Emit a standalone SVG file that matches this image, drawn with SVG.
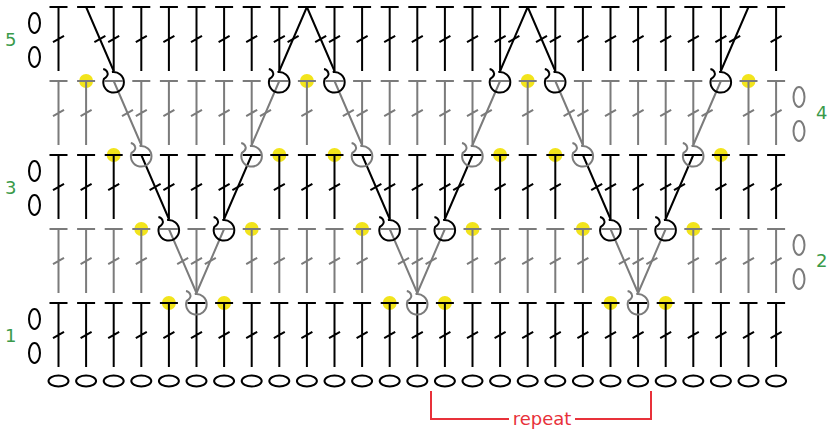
<svg xmlns="http://www.w3.org/2000/svg" width="828" height="431" viewBox="0 0 828 431">
<style>
.k{stroke:#000;fill:none;stroke-width:2}
.g{stroke:#7b7b7b;fill:none;stroke-width:2}
.dot{fill:#f2e41c;stroke:none}
.lbl{font-family:"DejaVu Sans",Verdana,sans-serif;font-size:18px;fill:#3a9a4a}
.rep{font-family:"DejaVu Sans",Verdana,sans-serif;font-size:18px;fill:#e8313a;text-anchor:middle}
</style>
<defs>
<path id="dc" d="M-9,0H9M0,0V64M-5.5,35.2L5.5,28.8"/>
<path id="bar" d="M-9,0H9"/>
<path id="sl" d="M-5.5,3.2L5.5,-3.2"/>
<path id="hk" d="M-1.8,-8.9A10.3,10.3 0 1 1 -9.8,-2.2Q-5,-5.2 -6.2,-8.4Q-7.2,-11.4 -10.5,-12"/>
<circle id="d" r="7"/>
<ellipse id="ch" rx="10" ry="5.5"/>
<ellipse id="ov" rx="5.5" ry="10"/>
</defs>

<g id="dots" class="dot">
<use href="#d" x="168.9" y="303"/><use href="#d" x="224.1" y="303"/><use href="#d" x="389.7" y="303"/><use href="#d" x="444.9" y="303"/><use href="#d" x="610.5" y="303"/><use href="#d" x="665.7" y="303"/>
<use href="#d" x="141.3" y="229"/><use href="#d" x="251.7" y="229"/><use href="#d" x="362.1" y="229"/><use href="#d" x="472.5" y="229"/><use href="#d" x="582.9" y="229"/><use href="#d" x="693.3" y="229"/>
<use href="#d" x="113.7" y="155"/><use href="#d" x="279.3" y="155"/><use href="#d" x="334.5" y="155"/><use href="#d" x="500.1" y="155"/><use href="#d" x="555.3" y="155"/><use href="#d" x="720.9" y="155"/>
<use href="#d" x="86.1" y="81"/><use href="#d" x="306.9" y="81"/><use href="#d" x="527.7" y="81"/><use href="#d" x="748.5" y="81"/>
</g>

<g id="chain" class="k">
<use href="#ch" x="58.5" y="381"/><use href="#ch" x="86.1" y="381"/><use href="#ch" x="113.7" y="381"/><use href="#ch" x="141.3" y="381"/><use href="#ch" x="168.9" y="381"/><use href="#ch" x="196.5" y="381"/><use href="#ch" x="224.1" y="381"/><use href="#ch" x="251.7" y="381"/><use href="#ch" x="279.3" y="381"/><use href="#ch" x="306.9" y="381"/><use href="#ch" x="334.5" y="381"/><use href="#ch" x="362.1" y="381"/><use href="#ch" x="389.7" y="381"/><use href="#ch" x="417.3" y="381"/><use href="#ch" x="444.9" y="381"/><use href="#ch" x="472.5" y="381"/><use href="#ch" x="500.1" y="381"/><use href="#ch" x="527.7" y="381"/><use href="#ch" x="555.3" y="381"/><use href="#ch" x="582.9" y="381"/><use href="#ch" x="610.5" y="381"/><use href="#ch" x="638.1" y="381"/><use href="#ch" x="665.7" y="381"/><use href="#ch" x="693.3" y="381"/><use href="#ch" x="720.9" y="381"/><use href="#ch" x="748.5" y="381"/><use href="#ch" x="776.1" y="381"/>
</g>

<g id="row1" class="k">
<use href="#dc" x="58.5" y="303"/><use href="#dc" x="86.1" y="303"/><use href="#dc" x="113.7" y="303"/><use href="#dc" x="141.3" y="303"/><use href="#dc" x="168.9" y="303"/><use href="#dc" x="196.5" y="303"/><use href="#dc" x="224.1" y="303"/><use href="#dc" x="251.7" y="303"/><use href="#dc" x="279.3" y="303"/><use href="#dc" x="306.9" y="303"/><use href="#dc" x="334.5" y="303"/><use href="#dc" x="362.1" y="303"/><use href="#dc" x="389.7" y="303"/><use href="#dc" x="417.3" y="303"/><use href="#dc" x="444.9" y="303"/><use href="#dc" x="472.5" y="303"/><use href="#dc" x="500.1" y="303"/><use href="#dc" x="527.7" y="303"/><use href="#dc" x="555.3" y="303"/><use href="#dc" x="582.9" y="303"/><use href="#dc" x="610.5" y="303"/><use href="#dc" x="638.1" y="303"/><use href="#dc" x="665.7" y="303"/><use href="#dc" x="693.3" y="303"/><use href="#dc" x="720.9" y="303"/><use href="#dc" x="748.5" y="303"/><use href="#dc" x="776.1" y="303"/>
<use href="#ov" x="34.5" y="319"/><use href="#ov" x="34.5" y="353"/>
</g>

<g id="row2" class="g">
<use href="#dc" x="58.5" y="229"/><use href="#dc" x="86.1" y="229"/><use href="#dc" x="113.7" y="229"/><use href="#dc" x="141.3" y="229"/><use href="#bar" x="168.9" y="229"/><use href="#dc" x="196.5" y="229"/><use href="#bar" x="224.1" y="229"/><use href="#dc" x="251.7" y="229"/><use href="#dc" x="279.3" y="229"/><use href="#dc" x="306.9" y="229"/><use href="#dc" x="334.5" y="229"/><use href="#dc" x="362.1" y="229"/><use href="#bar" x="389.7" y="229"/><use href="#dc" x="417.3" y="229"/><use href="#bar" x="444.9" y="229"/><use href="#dc" x="472.5" y="229"/><use href="#dc" x="500.1" y="229"/><use href="#dc" x="527.7" y="229"/><use href="#dc" x="555.3" y="229"/><use href="#dc" x="582.9" y="229"/><use href="#bar" x="610.5" y="229"/><use href="#dc" x="638.1" y="229"/><use href="#bar" x="665.7" y="229"/><use href="#dc" x="693.3" y="229"/><use href="#dc" x="720.9" y="229"/><use href="#dc" x="748.5" y="229"/><use href="#dc" x="776.1" y="229"/>
<use href="#ov" x="799" y="245"/><use href="#ov" x="799" y="279"/>
</g>

<g id="row3" class="k">
<use href="#dc" x="58.5" y="155"/><use href="#dc" x="86.1" y="155"/><use href="#dc" x="113.7" y="155"/><use href="#bar" x="141.3" y="155"/><use href="#dc" x="168.9" y="155"/><use href="#dc" x="196.5" y="155"/><use href="#dc" x="224.1" y="155"/><use href="#bar" x="251.7" y="155"/><use href="#dc" x="279.3" y="155"/><use href="#dc" x="306.9" y="155"/><use href="#dc" x="334.5" y="155"/><use href="#bar" x="362.1" y="155"/><use href="#dc" x="389.7" y="155"/><use href="#dc" x="417.3" y="155"/><use href="#dc" x="444.9" y="155"/><use href="#bar" x="472.5" y="155"/><use href="#dc" x="500.1" y="155"/><use href="#dc" x="527.7" y="155"/><use href="#dc" x="555.3" y="155"/><use href="#bar" x="582.9" y="155"/><use href="#dc" x="610.5" y="155"/><use href="#dc" x="638.1" y="155"/><use href="#dc" x="665.7" y="155"/><use href="#bar" x="693.3" y="155"/><use href="#dc" x="720.9" y="155"/><use href="#dc" x="748.5" y="155"/><use href="#dc" x="776.1" y="155"/>
<use href="#ov" x="34.5" y="171"/><use href="#ov" x="34.5" y="205"/>
</g>

<g id="row4" class="g">
<use href="#dc" x="58.5" y="81"/><use href="#dc" x="86.1" y="81"/><use href="#bar" x="113.7" y="81"/><use href="#dc" x="141.3" y="81"/><use href="#dc" x="168.9" y="81"/><use href="#dc" x="196.5" y="81"/><use href="#dc" x="224.1" y="81"/><use href="#dc" x="251.7" y="81"/><use href="#bar" x="279.3" y="81"/><use href="#dc" x="306.9" y="81"/><use href="#bar" x="334.5" y="81"/><use href="#dc" x="362.1" y="81"/><use href="#dc" x="389.7" y="81"/><use href="#dc" x="417.3" y="81"/><use href="#dc" x="444.9" y="81"/><use href="#dc" x="472.5" y="81"/><use href="#bar" x="500.1" y="81"/><use href="#dc" x="527.7" y="81"/><use href="#bar" x="555.3" y="81"/><use href="#dc" x="582.9" y="81"/><use href="#dc" x="610.5" y="81"/><use href="#dc" x="638.1" y="81"/><use href="#dc" x="665.7" y="81"/><use href="#dc" x="693.3" y="81"/><use href="#bar" x="720.9" y="81"/><use href="#dc" x="748.5" y="81"/><use href="#dc" x="776.1" y="81"/>
<use href="#ov" x="799" y="97"/><use href="#ov" x="799" y="131"/>
</g>

<g id="row5" class="k">
<use href="#dc" x="58.5" y="7"/><use href="#bar" x="86.1" y="7"/><use href="#dc" x="113.7" y="7"/><use href="#dc" x="141.3" y="7"/><use href="#dc" x="168.9" y="7"/><use href="#dc" x="196.5" y="7"/><use href="#dc" x="224.1" y="7"/><use href="#dc" x="251.7" y="7"/><use href="#dc" x="279.3" y="7"/><use href="#bar" x="306.9" y="7"/><use href="#dc" x="334.5" y="7"/><use href="#dc" x="362.1" y="7"/><use href="#dc" x="389.7" y="7"/><use href="#dc" x="417.3" y="7"/><use href="#dc" x="444.9" y="7"/><use href="#dc" x="472.5" y="7"/><use href="#dc" x="500.1" y="7"/><use href="#bar" x="527.7" y="7"/><use href="#dc" x="555.3" y="7"/><use href="#dc" x="582.9" y="7"/><use href="#dc" x="610.5" y="7"/><use href="#dc" x="638.1" y="7"/><use href="#dc" x="665.7" y="7"/><use href="#dc" x="693.3" y="7"/><use href="#dc" x="720.9" y="7"/><use href="#bar" x="748.5" y="7"/><use href="#dc" x="776.1" y="7"/>
<use href="#ov" x="34.5" y="23"/><use href="#ov" x="34.5" y="57"/>
</g>

<g id="connectors">
<g class="g">
<path d="M168.9,229L196.5,293M224.1,229L196.5,293M389.7,229L417.3,293M444.9,229L417.3,293M610.5,229L638.1,293M665.7,229L638.1,293"/>
<use href="#sl" x="182.7" y="261"/><use href="#sl" x="210.3" y="261"/><use href="#sl" x="403.5" y="261"/><use href="#sl" x="431.1" y="261"/><use href="#sl" x="624.3" y="261"/><use href="#sl" x="651.9" y="261"/>
<path d="M113.7,81L141.3,145M279.3,81L251.7,145M334.5,81L362.1,145M500.1,81L472.5,145M555.3,81L582.9,145M720.9,81L693.3,145"/>
<use href="#sl" x="127.5" y="113"/><use href="#sl" x="265.5" y="113"/><use href="#sl" x="348.3" y="113"/><use href="#sl" x="486.3" y="113"/><use href="#sl" x="569.1" y="113"/><use href="#sl" x="707.1" y="113"/>
</g>
<g class="k">
<path d="M141.3,155L168.9,219M251.7,155L224.1,219M362.1,155L389.7,219M472.5,155L444.9,219M582.9,155L610.5,219M693.3,155L665.7,219"/>
<use href="#sl" x="155.1" y="187"/><use href="#sl" x="237.9" y="187"/><use href="#sl" x="375.9" y="187"/><use href="#sl" x="458.7" y="187"/><use href="#sl" x="596.7" y="187"/><use href="#sl" x="679.5" y="187"/>
<path d="M86.1,7L113.7,71M306.9,7L279.3,71M306.9,7L334.5,71M527.7,7L500.1,71M527.7,7L555.3,71M748.5,7L720.9,71"/>
<use href="#sl" x="99.9" y="39"/><use href="#sl" x="293.1" y="39"/><use href="#sl" x="320.7" y="39"/><use href="#sl" x="513.9" y="39"/><use href="#sl" x="541.5" y="39"/><use href="#sl" x="734.7" y="39"/>
</g>
</g>

<g id="hooks">
<g class="g">
<use href="#hk" x="196.5" y="303"/><use href="#hk" x="417.3" y="303"/><use href="#hk" x="638.1" y="303"/>
<use href="#hk" x="141.3" y="155"/><use href="#hk" x="251.7" y="155"/><use href="#hk" x="362.1" y="155"/><use href="#hk" x="472.5" y="155"/><use href="#hk" x="582.9" y="155"/><use href="#hk" x="693.3" y="155"/>
</g>
<g class="k">
<use href="#hk" x="168.9" y="229"/><use href="#hk" x="224.1" y="229"/><use href="#hk" x="389.7" y="229"/><use href="#hk" x="444.9" y="229"/><use href="#hk" x="610.5" y="229"/><use href="#hk" x="665.7" y="229"/>
<use href="#hk" x="113.7" y="81"/><use href="#hk" x="279.3" y="81"/><use href="#hk" x="334.5" y="81"/><use href="#hk" x="500.1" y="81"/><use href="#hk" x="555.3" y="81"/><use href="#hk" x="720.9" y="81"/>
</g>
</g>

<g id="labels">
<text class="lbl" x="5" y="46">5</text>
<text class="lbl" x="5" y="194">3</text>
<text class="lbl" x="5" y="342">1</text>
<text class="lbl" x="816" y="119">4</text>
<text class="lbl" x="816" y="267">2</text>
</g>

<g id="repeat">
<path d="M431,391V419H509M575,419H651V391" fill="none" stroke="#e8313a" stroke-width="2"/>
<text class="rep" x="542" y="425">repeat</text>
</g>
</svg>
